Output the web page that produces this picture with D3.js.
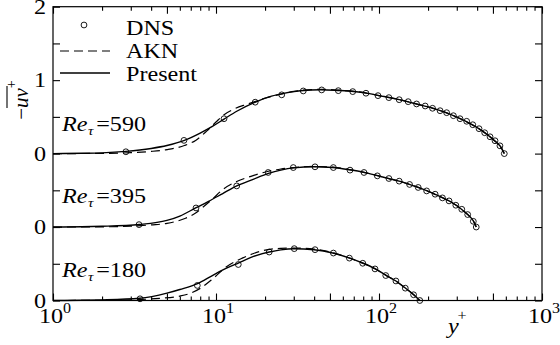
<!DOCTYPE html>
<html>
<head>
<meta charset="utf-8">
<script src="https://cdn.jsdelivr.net/npm/d3@7"></script>
<style>
  html, body { margin: 0; padding: 0; background: #fff; }
  svg { display: block; }
</style>
</head>
<body>
<svg id="chart" width="560" height="345"></svg>
<script>
// ---------------- DATA ----------------
const reLabels = ["590", "395", "180"];
const offsets = [0, -1, -2];

const dns590 = [[2.80,0.025],[6.36,0.18],[11.2,0.475],[17.4,0.70],[25.3,0.80],[34.3,0.853],[44.5,0.867],[56.3,0.857],[69.0,0.844],[83.2,0.822],[98.6,0.789],[115,0.762],[133,0.734],[151,0.707],[170,0.676],[192,0.648],[213,0.617],[237,0.584],[260,0.557],[286,0.516],[314,0.475],[345,0.44],[376,0.393],[411,0.339],[445,0.284],[480,0.229],[515,0.175],[552,0.106],[587,0]];
const dns395 = [[3.37,0.033],[7.54,0.26],[13.4,0.56],[20.9,0.743],[29.8,0.81],[40.5,0.82],[52.5,0.81],[66.4,0.775],[80.9,0.743],[97.7,0.697],[115,0.661],[133,0.625],[154,0.58],[174,0.539],[196,0.492],[221,0.447],[245,0.397],[269,0.356],[296,0.297],[322,0.242],[350,0.17],[379,0.078],[395,0]];
const dns180 = [[3.42,0.023],[7.68,0.205],[13.7,0.49],[21.2,0.66],[30.2,0.706],[40.5,0.692],[52.5,0.646],[65.8,0.577],[79.5,0.507],[94.5,0.43],[110,0.34],[127,0.266],[145,0.168],[163,0.078],[178,0]];

const present590 = [[1,0],[1.5,0.004],[2,0.01],[2.8,0.03],[4,0.07],[5,0.11],[6.4,0.18],[8,0.28],[9.5,0.37],[11.2,0.47],[13.5,0.58],[17,0.69],[21,0.77],[26,0.82],[33,0.855],[44,0.87],[56,0.86],[70,0.845],[85,0.82],[100,0.79],[133,0.735],[170,0.675],[215,0.615],[260,0.555],[315,0.475],[375,0.39],[445,0.285],[515,0.17],[555,0.1],[587,0]];
const akn590 = [[1,0],[2,0.003],[3,0.012],[4,0.03],[5,0.055],[6.4,0.11],[7.5,0.18],[8.8,0.31],[10,0.43],[11.2,0.53],[13,0.61],[15.4,0.67],[18,0.72],[20.4,0.76],[25,0.81],[33,0.86],[44,0.875],[56,0.865],[70,0.848],[85,0.822],[100,0.79],[133,0.735],[170,0.675],[215,0.615],[260,0.555],[315,0.475],[375,0.39],[445,0.285],[515,0.17],[555,0.1],[587,0]];

const present395 = [[1,0],[1.5,0.004],[2,0.01],[3.4,0.035],[5,0.09],[6,0.15],[7.5,0.26],[9,0.35],[11,0.456],[13.4,0.56],[16.9,0.65],[21,0.73],[25,0.775],[30,0.805],[40,0.82],[52,0.81],[66,0.78],[81,0.745],[98,0.70],[115,0.66],[133,0.625],[154,0.58],[174,0.54],[196,0.495],[221,0.445],[245,0.4],[269,0.355],[296,0.3],[322,0.24],[350,0.17],[379,0.085],[395,0]];
const akn395 = [[1,0],[2,0.003],[3,0.012],[4,0.03],[5,0.05],[6.5,0.12],[7.5,0.19],[8.2,0.26],[9.5,0.38],[11,0.51],[13.4,0.62],[16.9,0.70],[21,0.76],[25,0.79],[30,0.81],[40,0.825],[52,0.815],[66,0.782],[81,0.745],[98,0.70],[115,0.66],[133,0.625],[154,0.58],[174,0.54],[196,0.495],[221,0.445],[245,0.4],[269,0.355],[296,0.3],[322,0.24],[350,0.17],[379,0.085],[395,0]];

const present180 = [[1,0],[1.5,0.003],[2,0.008],[3.4,0.03],[5,0.1],[6,0.15],[7.7,0.23],[9.5,0.34],[11.6,0.44],[13.7,0.51],[17,0.6],[21.2,0.66],[25,0.69],[30,0.705],[40,0.69],[52,0.646],[66,0.577],[80,0.507],[95,0.43],[110,0.345],[127,0.265],[145,0.17],[163,0.08],[178,0]];
const akn180 = [[1,0],[2,0.002],[3,0.008],[4.5,0.03],[6,0.06],[7,0.1],[8,0.165],[9.5,0.29],[11.6,0.46],[14.6,0.58],[17,0.64],[20.4,0.69],[25,0.71],[30,0.715],[40,0.70],[52,0.65],[66,0.578],[80,0.507],[95,0.43],[110,0.345],[127,0.265],[145,0.17],[163,0.08],[178,0]];

const dnsSets = [dns590, dns395, dns180];
const presentSets = [present590, present395, present180];
const aknSets = [akn590, akn395, akn180];

const xTickValues = [1, 10, 100, 1000];
const xTickExponents = ["0", "1", "2", "3"];
const yTickValues = [2, 1, 0, -1, -2];
const yTickLabels = ["2", "1", "0", "0", "0"];
const legendLabels = ["DNS", "AKN", "Present"];

// ---------------- LAYOUT ----------------
const L = 53, R = 542, T = 6.7, B = 300.5;
const SX = 1.15; // horizontal text stretch
const FS = 21;
const FONT = '"Liberation Serif"';

const svg = d3.select("#chart");
const x = d3.scaleLog().domain([1, 1000]).range([L, R]);
const y = d3.scaleLinear().domain([-2, 2]).range([B, T]);

function stretchedText(px, py, anchor) {
  return svg.append("text")
    .attr("transform", `translate(${px},${py}) scale(${SX},1)`)
    .attr("text-anchor", anchor || "start")
    .style("font-family", FONT)
    .attr("font-size", FS)
    .attr("fill", "#000");
}

// ---------------- AXES (ticks inward) ----------------
const minor = [], major = [];
for (let e = 0; e < 3; e++) {
  for (let m = 1; m <= 9; m++) {
    const v = m * Math.pow(10, e);
    if (m === 1 || m === 5) major.push(v); else minor.push(v);
  }
}
major.push(1000);
const yTicks = d3.range(-2, 2.001, 0.5);

function axisG(axis, tx, ty) {
  const g = svg.append("g").attr("transform", `translate(${tx},${ty})`).call(axis);
  g.select(".domain").remove();
  g.selectAll(".tick line").attr("stroke", "#000").attr("stroke-width", 1.1);
  return g;
}
axisG(d3.axisBottom(x).tickValues(major).tickSize(-7).tickFormat(""), 0, B);
axisG(d3.axisBottom(x).tickValues(minor).tickSize(-4).tickFormat(""), 0, B);
axisG(d3.axisTop(x).tickValues(major).tickSize(-7).tickFormat(""), 0, T);
axisG(d3.axisTop(x).tickValues(minor).tickSize(-4).tickFormat(""), 0, T);
axisG(d3.axisLeft(y).tickValues(yTicks).tickSize(-7).tickFormat(""), L, 0);
axisG(d3.axisRight(y).tickValues(yTicks).tickSize(-7).tickFormat(""), R, 0);

svg.append("rect")
  .attr("x", L).attr("y", T).attr("width", R - L).attr("height", B - T)
  .attr("fill", "none").attr("stroke", "#000").attr("stroke-width", 1.2);

// tick labels
xTickValues.forEach((v, i) => {
  const t = stretchedText(x(v) + 2, 323, "middle");
  t.append("tspan").text("10");
  t.append("tspan").attr("font-size", 14).attr("dy", -10).text(xTickExponents[i]);
});
yTickValues.forEach((v, i) => {
  stretchedText(46, y(v) + 7, "end").text(yTickLabels[i]);
});

// axis titles
const xt = stretchedText(448, 333, "start");
xt.append("tspan").attr("font-style", "italic").text("y");
xt.append("tspan").attr("font-size", 14).attr("dy", -13).attr("dx", -1).text("+");

const yt = svg.append("text")
  .attr("transform", "translate(28,100) rotate(-90)")
  .attr("text-anchor", "middle")
  .style("font-family", FONT)
  .attr("font-size", FS);
yt.append("tspan").text("\u2212");
yt.append("tspan").attr("font-style", "italic").text("uv");
yt.append("tspan").attr("font-size", 14).attr("dy", -12).text("+");
{
  const node = yt.node();
  const s = node.getStartPositionOfChar(1);
  const e = node.getEndPositionOfChar(2);
  svg.append("line")
    .attr("transform", "translate(28,100) rotate(-90)")
    .attr("x1", s.x).attr("x2", e.x + 2)
    .attr("y1", -21).attr("y2", -21)
    .attr("stroke", "#000").attr("stroke-width", 1.1);
}

// ---------------- CURVES ----------------
offsets.forEach((off, i) => {
  const line = d3.line()
    .x(d => x(d[0]))
    .y(d => y(d[1] + off))
    .curve(d3.curveMonotoneX);

  svg.append("path").datum(aknSets[i])
    .attr("d", line).attr("fill", "none")
    .attr("stroke", "#000").attr("stroke-width", 1.2)
    .attr("stroke-dasharray", "9,5");

  svg.append("path").datum(presentSets[i])
    .attr("d", line).attr("fill", "none")
    .attr("stroke", "#000").attr("stroke-width", 1.4);

  svg.append("g").selectAll("circle").data(dnsSets[i]).join("circle")
    .attr("cx", d => x(d[0])).attr("cy", d => y(d[1] + off))
    .attr("r", 2.9).attr("fill", "none")
    .attr("stroke", "#000").attr("stroke-width", 0.9);
});

// Re labels
const reBaselines = [131, 203, 277];
reLabels.forEach((lab, i) => {
  const t = stretchedText(62, reBaselines[i], "start");
  t.append("tspan").attr("font-style", "italic").text("Re");
  t.append("tspan").attr("font-style", "italic").attr("font-size", 13).attr("dy", 4).attr("dx", 0.5).text("\u03c4");
  t.append("tspan").attr("dy", -4).attr("dx", 2.5).text("=" + lab);
});

// ---------------- LEGEND ----------------
const legY = [25, 51, 73];
const legText = [35, 58, 81];
svg.append("circle").attr("cx", 84).attr("cy", legY[0]).attr("r", 2.9)
  .attr("fill", "none").attr("stroke", "#000").attr("stroke-width", 0.9);
svg.append("line").attr("x1", 60).attr("x2", 110).attr("y1", legY[1]).attr("y2", legY[1])
  .attr("stroke", "#000").attr("stroke-width", 1.2).attr("stroke-dasharray", "9,5");
svg.append("line").attr("x1", 60).attr("x2", 110).attr("y1", legY[2]).attr("y2", legY[2])
  .attr("stroke", "#000").attr("stroke-width", 1.4);
legendLabels.forEach((lab, i) => {
  stretchedText(126, legText[i], "start").text(lab);
});
</script>
</body>
</html>
